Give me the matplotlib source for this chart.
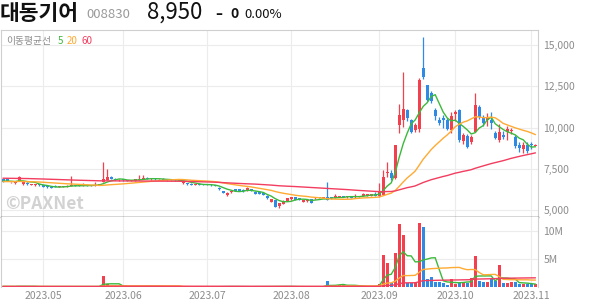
import matplotlib
matplotlib.use("Agg")
import matplotlib.pyplot as plt
import numpy as np
import pandas as pd

plt.rcParams['font.family'] = ['Noto Sans CJK KR', 'DejaVu Sans']

# ---- data (one entry per trading day, 2023-04-18 .. 2023-11-02) ----
opens = [
    6860, 6920, 6680, 6630, 6760, 6580, 6650, 6520, 6500, 6580,
    6520, 6450, 6420, 6480, 6380, 6400, 6430, 6450, 6520, 6500,
    6450, 6530, 6470, 6480, 6500, 6700, 6820, 7000, 6900, 6800,
    6850, 6820, 6750, 6780, 6820, 6880, 6960, 6850, 6920, 6850,
    6900, 6860, 6800, 6840, 6780, 6620, 6620, 6600, 6540, 6600,
    6580, 6560, 6540, 6520, 6350, 6150, 5900, 6070, 6250, 6250,
    6240, 6200, 6260, 6110, 6080, 6050, 5870, 5500, 5600, 5240,
    5360, 5560, 5650, 5760, 5700, 5500, 5520, 5640, 5700, 5790,
    5720, 5760, 5760, 5720, 5780, 5850, 5760, 5810, 5760, 5790,
    5830, 5850, 5850, 5970, 5850, 5900, 7220, 7220, 6920, 10150,
    10450, 11060, 10450, 9850, 9880, 13600, 12580, 12110, 11060, 10450,
    10560, 10450, 9850, 10800, 11060, 9200, 9480, 9100, 9740, 11260,
    10560, 10450, 10450, 9680, 9240, 9550, 9740, 9800, 9410, 8940,
    8700, 8940, 9000, 8900]
highs = [
    6880, 6930, 6720, 6700, 7050, 6700, 6680, 6600, 6580, 6600,
    6540, 6470, 6440, 6500, 6450, 6480, 6490, 7050, 6540, 6520,
    6650, 6550, 6540, 6700, 6580, 7890, 7500, 7050, 6920, 6860,
    6870, 6840, 6820, 6880, 7150, 7100, 6980, 6920, 6940, 6900,
    6920, 6880, 6840, 6860, 6820, 6720, 6640, 6620, 6600, 6620,
    6600, 6580, 6560, 6540, 6380, 6170, 6080, 6200, 6270, 6270,
    6280, 6400, 6290, 6130, 6100, 6070, 5890, 5680, 5620, 5420,
    5580, 5720, 5790, 5780, 5720, 5620, 5620, 5660, 5780, 5810,
    5800, 6720, 5780, 5950, 5870, 5870, 5840, 5830, 5950, 5870,
    6050, 5960, 5990, 6080, 6640, 7420, 7930, 7400, 8950, 11420,
    13380, 11100, 10500, 10300, 13030, 15470, 12600, 12200, 11200, 10650,
    10780, 10600, 10950, 11050, 11100, 9650, 9580, 9560, 12070, 11360,
    10760, 10900, 10960, 9800, 10200, 9800, 10100, 9950, 9550, 9100,
    9150, 9150, 9150, 9000]
lows = [
    6700, 6770, 6660, 6550, 6740, 6500, 6540, 6500, 6480, 6480,
    6380, 6360, 6310, 6380, 6370, 6390, 6420, 6430, 6440, 6430,
    6440, 6460, 6460, 6470, 6490, 6680, 6800, 6860, 6800, 6780,
    6780, 6740, 6730, 6770, 6810, 6860, 6860, 6840, 6840, 6830,
    6820, 6780, 6780, 6770, 6760, 6600, 6540, 6520, 6530, 6520,
    6510, 6500, 6480, 6440, 6230, 6030, 5870, 6050, 6130, 6140,
    6100, 6180, 6130, 5950, 5960, 5880, 5690, 5480, 5180, 5150,
    5340, 5540, 5630, 5600, 5580, 5480, 5500, 5400, 5690, 5730,
    5710, 5580, 5680, 5700, 5770, 5770, 5750, 5720, 5750, 5780,
    5820, 5840, 5840, 5830, 5800, 5880, 7000, 6800, 6900, 9650,
    10050, 10400, 9650, 9700, 9700, 12950, 11600, 11500, 10450, 10150,
    9980, 9850, 9650, 10400, 9150, 9000, 8750, 9000, 9700, 10500,
    10100, 10100, 9900, 9300, 9150, 9300, 9250, 9600, 8750, 8500,
    8480, 8480, 8700, 8880]
closes = [
    6720, 6780, 6700, 6660, 7000, 6680, 6560, 6580, 6560, 6500,
    6400, 6380, 6330, 6400, 6430, 6460, 6470, 6500, 6460, 6450,
    6500, 6480, 6520, 6530, 6560, 6870, 7000, 6880, 6820, 6840,
    6800, 6760, 6800, 6860, 6900, 6950, 6880, 6900, 6860, 6880,
    6840, 6800, 6820, 6790, 6800, 6700, 6560, 6540, 6580, 6540,
    6530, 6520, 6500, 6460, 6250, 6050, 6050, 6170, 6150, 6160,
    6150, 6330, 6150, 5970, 5980, 5900, 5710, 5650, 5200, 5400,
    5560, 5700, 5770, 5620, 5600, 5600, 5600, 5450, 5760, 5750,
    5790, 5600, 5700, 5850, 5850, 5790, 5820, 5740, 5850, 5850,
    5940, 5940, 5970, 5850, 6100, 7020, 7320, 6920, 8940, 10760,
    11120, 10560, 9710, 10150, 12900, 13080, 11670, 11600, 10700, 10250,
    10450, 9890, 10700, 10960, 9240, 9550, 8840, 9440, 11360, 10640,
    10290, 10560, 10300, 9350, 9740, 9440, 9900, 9850, 8850, 8740,
    8940, 8580, 8950, 8950]
# volume in millions of shares
volumes = [
    0.12, 0.10, 0.08, 0.10, 0.25, 0.12, 0.09, 0.08, 0.07, 0.08,
    0.09, 0.08, 0.10, 0.07, 0.06, 0.07, 0.06, 0.20, 0.08, 0.06,
    0.10, 0.06, 0.07, 0.12, 0.09, 2.00, 0.45, 0.20, 0.10, 0.08,
    0.07, 0.06, 0.06, 0.08, 0.15, 0.12, 0.08, 0.07, 0.06, 0.06,
    0.06, 0.05, 0.05, 0.06, 0.05, 0.08, 0.06, 0.05, 0.05, 0.05,
    0.05, 0.05, 0.05, 0.06, 0.10, 0.12, 0.10, 0.08, 0.07, 0.06,
    0.06, 0.08, 0.06, 0.07, 0.06, 0.08, 0.12, 0.10, 0.18, 0.12,
    0.10, 0.08, 0.07, 0.06, 0.06, 0.06, 0.05, 0.08, 0.06, 0.05,
    0.06, 1.10, 0.15, 0.12, 0.40, 0.50, 0.40, 0.10, 0.10, 0.08,
    0.12, 0.08, 0.10, 0.10, 0.55, 5.70, 4.20, 0.80, 6.00, 11.25,
    9.20, 0.66, 0.66, 0.66, 11.40, 10.80, 1.40, 1.70, 0.84, 0.95,
    0.66, 0.36, 1.40, 0.60, 0.77, 0.90, 0.80, 1.55, 5.50, 1.07,
    0.95, 0.90, 1.50, 1.00, 3.90, 0.70, 0.80, 0.90, 0.90, 0.60,
    0.50, 0.55, 0.50, 0.45]

# moving-average levels at the left edge (from days before the window)
ma_start = {5: 6760, 20: 6720, 60: 6930}
vol_start = 0.1

month_idx = [10, 30, 51, 72, 94, 113, 132]
month_labels = ['2023.05', '2023.06', '2023.07', '2023.08', '2023.09', '2023.10', '2023.11']
price_ticks = [5000, 7500, 10000, 12500, 15000]
vol_ticks = [5, 10]
vol_tick_labels = ['5M', '10M']

RED = '#f2404f'
BLUE = '#2f8ae6'
MA_COLORS = {5: '#3cb93c', 20: '#ffaa33', 60: '#f23d5f'}
GRID = '#ececec'
FRAME = '#cfcfcf'
TXT = '#8c8c8c'


def moving_avg(vals, n, start):
    s = pd.Series([start] * (n - 1) + list(vals))
    return s.rolling(n).mean().to_numpy()[n - 1:]


W, H = 594, 304
fig = plt.figure(figsize=(W / 100, H / 100), dpi=100)


def box(x0, y0, x1, y1):
    return [x0 / W, 1 - y1 / H, (x1 - x0) / W, (y1 - y0) / H]


ax = fig.add_axes(box(1, 30, 538, 217))
axv = fig.add_axes(box(1, 217, 538, 287), sharex=ax)

x = np.arange(len(closes))
o = np.array(opens)
c = np.array(closes)
up = c >= o
colors = np.where(up, RED, BLUE)

# candles
ax.vlines(x, lows, highs, colors=colors, linewidth=0.9, zorder=3)
body_h = np.maximum(np.abs(c - o), 40)
ax.bar(x, body_h, bottom=np.minimum(o, c), width=0.75, color=colors, zorder=4)

for n in (5, 20, 60):
    ax.plot(x, moving_avg(closes, n, ma_start[n]), color=MA_COLORS[n], lw=1.0, zorder=5)

# volume
vol = np.array(volumes)
axv.bar(x, vol, width=0.75, color=colors, zorder=3)
for n in (5, 20, 60):
    axv.plot(x, moving_avg(volumes, n, vol_start), color=MA_COLORS[n], lw=1.0, zorder=4)

ax.set_xlim(-0.55, 133.7)
ax.set_ylim(4576, 15909)
axv.set_ylim(0, 12.5)

for a in (ax, axv):
    a.set_xticks(month_idx)
    a.grid(True, color=GRID, lw=0.8, zorder=0)
    a.set_axisbelow(True)
    a.yaxis.tick_right()
    a.tick_params(length=0, labelsize=7.5, labelcolor=TXT, pad=4)
    for s in a.spines.values():
        s.set_color(FRAME)
        s.set_linewidth(0.8)

ax.set_yticks(price_ticks)
ax.set_yticklabels([f'{v:,}' for v in price_ticks])
ax.tick_params(axis='x', labelbottom=False)
ax.spines['bottom'].set_color('#333333')
ax.spines['bottom'].set_linewidth(1.0)
axv.spines['top'].set_visible(False)
axv.spines['bottom'].set_visible(False)
axv.set_yticks(vol_ticks)
axv.set_yticklabels(vol_tick_labels)
axv.set_xticklabels(month_labels)
axv.tick_params(axis='x', pad=3, labelsize=7.5)
for lab in ax.get_yticklabels() + axv.get_yticklabels():
    lab.set_horizontalalignment('left')

# watermark
ax.text(0.008, 0.07, '©PAXNet', transform=ax.transAxes, fontsize=12.5,
        fontweight='bold', color='#d2d2d2', va='center', ha='left', zorder=1)


def ftext(px, py, s, **kw):
    fig.text(px / W, 1 - py / H, s, va='center', ha='left', **kw)


# legend line
ftext(6, 41, '이동평균선', fontsize=7, color=TXT)
ftext(58, 41, '5', fontsize=7, color=MA_COLORS[5])
ftext(67, 41, '20', fontsize=7, color=MA_COLORS[20])
ftext(82, 41, '60', fontsize=7, color=MA_COLORS[60])

# header
ftext(0, 13, '대동기어', fontsize=15.5, color='#111111', fontweight='bold')
ftext(86, 14, '008830', fontsize=9.5, color='#9a9a9a')
ftext(147, 12, '8,950', fontsize=16, color='#111111')
ftext(215, 14, '–', fontsize=10, color='#111111', fontweight='bold',
      family=['DejaVu Sans'])
ftext(230, 14, '0', fontsize=10, color='#111111', fontweight='bold')
ftext(244, 14, '0.00%', fontsize=9.5, color='#111111')

fig.savefig('out.png', dpi=100)
